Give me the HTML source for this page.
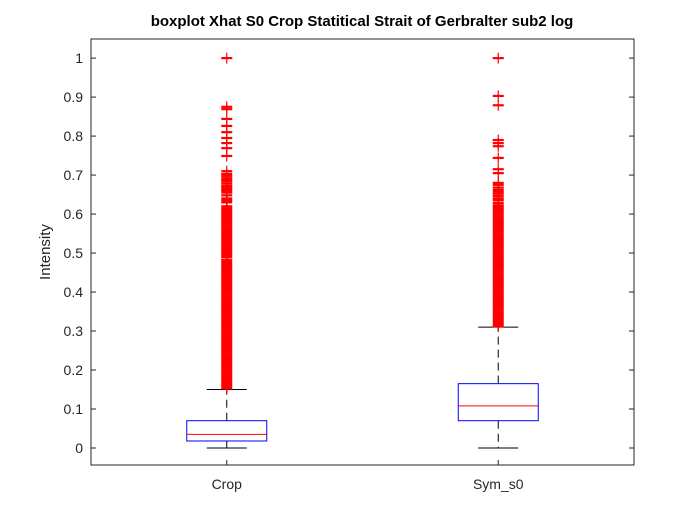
<!DOCTYPE html>
<html><head><meta charset="utf-8"><style>
body{margin:0;background:#fff;}
svg{display:block;font-family:"Liberation Sans",sans-serif;}
</style></head><body>
<svg id="c" width="700" height="525">
<rect width="700" height="525" fill="#fff"/>
<text x="362" y="26" text-anchor="middle" font-size="15" font-weight="bold" fill="#000">boxplot Xhat S0 Crop Statitical Strait of Gerbralter sub2 log</text>
<text transform="translate(50,252) rotate(-90)" text-anchor="middle" font-size="15" fill="#262626">Intensity</text>
<g id="ax"></g><g id="marks"></g>
</svg>
<script>
const categories=["Crop","Sym_s0"];
const mins=[0,0];
const q1s=[0.018,0.07];
const medians=[0.035,0.108];
const q3s=[0.07,0.165];
const whiskerHigh=[0.15,0.31];
const yTicks=[0,0.1,0.2,0.3,0.4,0.5,0.6,0.7,0.8,0.9,1];
const outliersCrop=[1,0.875,0.869,0.844,0.826,0.81,0.795,0.782,0.769,0.749,0.71,0.703,0.698,0.692,0.688,0.684,0.678,0.672,0.668,0.664,0.66,0.655,0.648,0.64,0.635,0.63,0.62,0.615,0.61,0.605,0.6,0.595,0.59,0.585,0.58,0.575,0.57,0.565,0.56,0.555,0.55,0.545,0.54,0.535,0.53,0.525,0.52,0.515,0.51,0.505,0.5,0.495,0.49,0.483,0.478,0.473,0.468,0.463,0.458,0.453,0.448,0.443,0.438,0.433,0.428,0.423,0.418,0.413,0.408,0.403,0.398,0.393,0.388,0.383,0.378,0.373,0.368,0.363,0.358,0.353,0.348,0.343,0.338,0.333,0.328,0.323,0.318,0.313,0.308,0.303,0.298,0.293,0.288,0.283,0.278,0.273,0.268,0.263,0.258,0.253,0.248,0.243,0.238,0.233,0.228,0.223,0.218,0.213,0.208,0.203,0.198,0.193,0.188,0.183,0.178,0.173,0.168,0.163,0.158,0.153];
const outliersSym=[1,0.903,0.879,0.79,0.782,0.774,0.744,0.715,0.705,0.68,0.675,0.668,0.662,0.657,0.652,0.646,0.64,0.635,0.628,0.622,0.617,0.612,0.607,0.602,0.597,0.592,0.587,0.582,0.577,0.572,0.567,0.562,0.557,0.552,0.547,0.542,0.537,0.532,0.527,0.522,0.517,0.512,0.507,0.502,0.497,0.492,0.487,0.482,0.477,0.472,0.467,0.462,0.457,0.452,0.447,0.442,0.437,0.432,0.427,0.422,0.417,0.412,0.407,0.402,0.397,0.392,0.387,0.382,0.377,0.372,0.367,0.362,0.357,0.352,0.347,0.342,0.337,0.332,0.327,0.322,0.317,0.312];
const outliers=[outliersCrop,outliersSym];
const L=91,R=634,T=39,B=465,ymin=-0.0436,ymax=1.049;
const y=v=>B-(v-ymin)/(ymax-ymin)*(B-T);
const x=i=>L+(i+0.5)/categories.length*(R-L);
const NS="http://www.w3.org/2000/svg";
function mk(t,a,p){const e=document.createElementNS(NS,t);for(const k in a)e.setAttribute(k,a[k]);p.appendChild(e);return e;}
const ax=document.getElementById('ax'),mg=document.getElementById('marks');
mk('rect',{x:L,y:T,width:R-L,height:B-T,fill:'none',stroke:'#262626','stroke-width':1},ax);
yTicks.forEach(v=>{const yy=y(v);
 mk('line',{x1:L,x2:L+5,y1:yy,y2:yy,stroke:'#262626'},ax);
 mk('line',{x1:R,x2:R-5,y1:yy,y2:yy,stroke:'#262626'},ax);
 const t=mk('text',{x:L-8,y:yy+5,'text-anchor':'end','font-size':14,fill:'#262626'},ax);t.textContent=String(v);
 
 
});
const hw=40;
categories.forEach((c,i)=>{const cx=x(i);
 const t=mk('text',{x:cx,y:B+24,'text-anchor':'middle','font-size':14,fill:'#262626'},ax);t.textContent=c;
 
 
 mk('line',{x1:cx,x2:cx,y1:B,y2:B-5,stroke:'#262626'},ax);
 const g=mk('g',{},mg);
 
 
 mk('line',{x1:cx,x2:cx,y1:y(q3s[i]),y2:y(whiskerHigh[i]),stroke:'#000','stroke-dasharray':'8,5'},g);
 mk('line',{x1:cx,x2:cx,y1:y(q1s[i]),y2:y(mins[i]),stroke:'#000','stroke-dasharray':'8,5'},g);
 mk('line',{x1:cx-20,x2:cx+20,y1:y(whiskerHigh[i]),y2:y(whiskerHigh[i]),stroke:'#000'},g);
 mk('line',{x1:cx-20,x2:cx+20,y1:y(mins[i]),y2:y(mins[i]),stroke:'#000'},g);
 mk('rect',{x:cx-hw,y:y(q3s[i]),width:2*hw,height:y(q1s[i])-y(q3s[i]),fill:'none',stroke:'#0000ff'},g);
 mk('line',{x1:cx-hw,x2:cx+hw,y1:y(medians[i]),y2:y(medians[i]),stroke:'#ff0000'},g);
 outliers[i].forEach(v=>{const yy=y(v);
  mk('path',{d:`M${cx-5.5},${yy}H${cx+5.5}`,stroke:'#ff0000','stroke-width':2.2},g);
  mk('path',{d:`M${cx},${yy-5.5}V${yy+5.5}`,stroke:'#ff0000','stroke-width':1.2},g);
 });
});
</script>
</body></html>
